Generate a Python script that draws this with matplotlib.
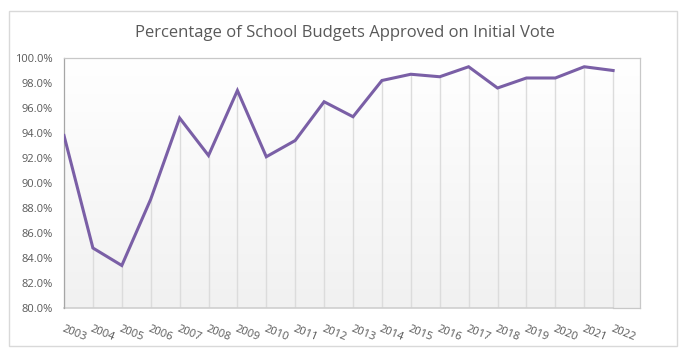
import numpy as np
import matplotlib
matplotlib.use("Agg")
import matplotlib.pyplot as plt
from matplotlib.patches import Rectangle
from matplotlib.ticker import FuncFormatter

# data
years = [2003, 2004, 2005, 2006, 2007, 2008, 2009, 2010, 2011, 2012,
         2013, 2014, 2015, 2016, 2017, 2018, 2019, 2020, 2021, 2022]
pct_approved = [93.8, 84.8, 83.4, 88.7, 95.2, 92.2, 97.4, 92.1, 93.4, 96.5,
                95.3, 98.2, 98.7, 98.5, 99.3, 97.6, 98.4, 98.4, 99.3, 99.0]
title = "Percentage of School Budgets Approved on Initial Vote"

plt.rcParams['font.family'] = ['Open Sans', 'DejaVu Sans']
W, H = 690, 356
fig = plt.figure(figsize=(W / 100, H / 100), dpi=100)
fig.patch.set_facecolor('white')

# outer chart frame
fig.patches.append(Rectangle((9 / W, 1 - 346 / H), 668 / W, 335 / H,
                             transform=fig.transFigure, fill=False,
                             edgecolor='#d9d9d9', lw=1))

ax = fig.add_axes([64 / W, 1 - 308 / H, 576 / W, 250 / H])
x = np.arange(len(years))
ax.set_xlim(0, 19.93)
ax.set_ylim(80, 100)

# background gradient (white top -> light grey bottom)
grad = np.linspace(1.0, 0.945, 256).reshape(-1, 1)
ax.imshow(np.dstack([grad, grad, grad]), extent=[0, 1, 0, 1],
          transform=ax.transAxes, aspect='auto', zorder=0)

# drop lines
ax.vlines(x, 80, pct_approved, color='#dcdcdc', lw=1, zorder=1)
ax.plot(x, pct_approved, color='#7a5fa6', lw=2.2, zorder=3,
        solid_joinstyle='miter')

# axis lines
for s in ax.spines.values():
    s.set_color('#c8c8c8')
    s.set_linewidth(0.9)
ax.spines['left'].set_color('#a6a6a6')
ax.spines['bottom'].set_visible(False)
ax.plot([0, 19], [80, 80], color='#cfcfcf', lw=1.2, zorder=2, clip_on=False)
ax.plot([19, 19.93], [80, 80], color='#c8c8c8', lw=0.9, zorder=2, clip_on=False)

ax.set_yticks(np.arange(80, 100.1, 2))
ax.yaxis.set_major_formatter(FuncFormatter(lambda v, p: f"{v:.1f}%"))
ax.tick_params(axis='y', length=0, pad=8, labelsize=8, labelcolor='#595959')

ax.set_xticks(x)
ax.set_xticklabels([str(y) for y in years])
ax.tick_params(axis='x', length=0, pad=11, labelsize=8, labelcolor='#595959')
for lbl in ax.get_xticklabels():
    lbl.set_rotation(-22)
    lbl.set_ha('left')
    lbl.set_va('top')
    lbl.set_rotation_mode('anchor')

fig.text(345 / W, 1 - 33 / H, title, ha='center', va='center',
         fontsize=12, color='#595959')

fig.savefig('out.png', dpi=100)
